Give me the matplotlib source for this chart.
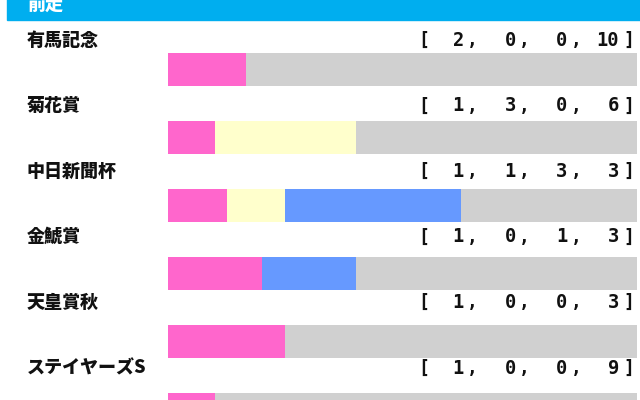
import matplotlib
matplotlib.use("Agg")
import matplotlib.pyplot as plt
import numpy as np

# ---- data ----
races = ['有馬記念', '菊花賞', '中日新聞杯', '金鯱賞', '天皇賞秋', 'ステイヤーズS']
first = [2, 1, 1, 1, 1, 1]
second = [0, 3, 1, 0, 0, 0]
third = [0, 0, 3, 1, 0, 0]
other = [10, 6, 3, 3, 3, 9]
header = '前走'

# ---- style ----
colors = ['#FF66CC', '#FFFFCC', '#6699FF', '#D0D0D0']
W, H = 640, 400
plt.rcParams['font.family'] = ['Noto Sans CJK JP', 'DejaVu Sans']

fig = plt.figure(figsize=(6.4, 4.0), dpi=100)
fig.patch.set_facecolor('white')

# axes covering full figure, scaled so bars span x 168..637 px
bar_x0, bar_x1 = 168, 637
span = bar_x1 - bar_x0
row0, row_step = 69, 68
ax = fig.add_axes([0, 0, 1, 1])
ax.set_xlim(-bar_x0 / span, (W - bar_x0) / span)
ax.set_ylim((H - row0) / row_step, -row0 / row_step)
ax.axis('off')

counts = np.array([first, second, third, other], dtype=float)
totals = counts.sum(axis=0)
fracs = counts / totals
y = np.arange(len(races))
left = np.zeros(len(races))
for k in range(4):
    ax.barh(y, fracs[k], left=left, height=33 / row_step, color=colors[k],
            edgecolor='none', zorder=2)
    left += fracs[k]

def fx(px):
    return px / W

def fy(py):
    return 1 - py / H

# header band
fig.patches.append(plt.Rectangle((fx(7), fy(20)), fx(W) - fx(7), 1 - fy(20) + 0.01,
                                 transform=fig.transFigure, color='#00AEEF',
                                 zorder=0))
fig.text(fx(27), fy(4), header, color='white', fontsize=13, fontweight='heavy',
         ha='left', va='center')

label0, label_step = 40, 65.6
mono = 'DejaVu Sans Mono'
tc = '#111111'
for i, name in enumerate(races):
    ly = label0 + label_step * i
    fig.text(fx(27), fy(ly), name, fontsize=13, fontweight='heavy',
             ha='left', va='center', color=tc)
    vals = [first[i], second[i], third[i], other[i]]
    fig.text(fx(418), fy(ly), '[', family=mono, fontsize=13,
             fontweight='bold', ha='left', va='center', color=tc)
    fig.text(fx(634), fy(ly), ']', family=mono, fontsize=13,
             fontweight='bold', ha='right', va='center', color=tc)
    for k, v in enumerate(vals):
        xr = 464 + 51.7 * k
        fig.text(fx(xr), fy(ly), str(v), family=mono, fontsize=13.5,
                 fontweight='bold', ha='right', va='center', color=tc)
        if k < 3:
            fig.text(fx(xr + 3), fy(ly + 1), ',', family=mono, fontsize=13,
                     fontweight='bold', ha='left', va='center', color=tc)

fig.savefig('out.png', dpi=100)
